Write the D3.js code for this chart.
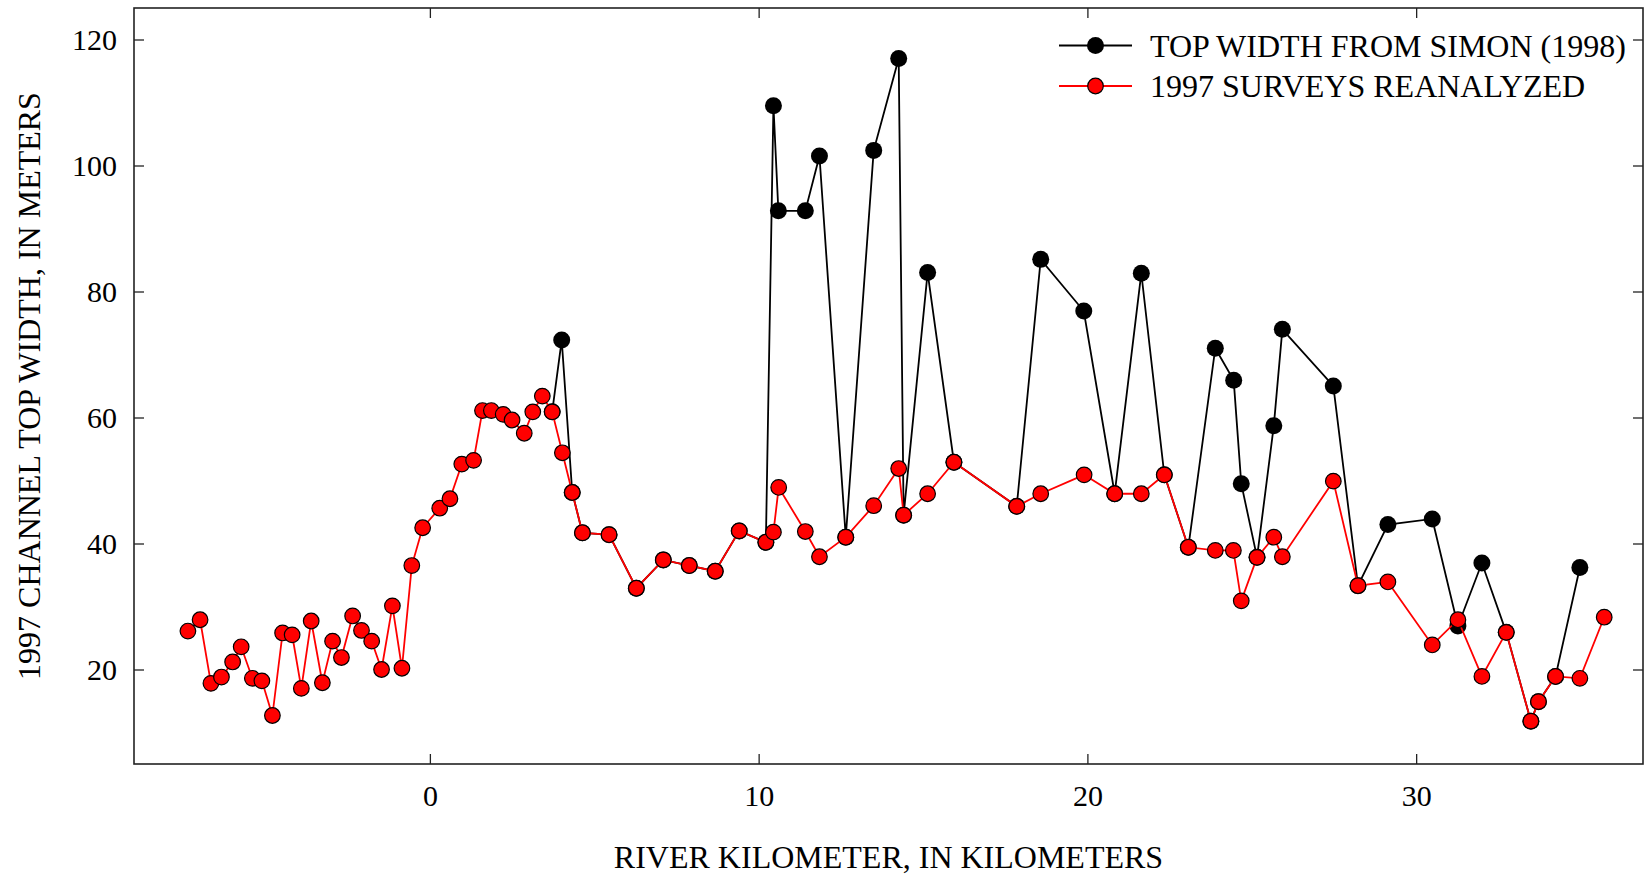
<!DOCTYPE html>
<html>
<head>
<meta charset="utf-8">
<script src="https://cdn.jsdelivr.net/npm/d3@7"></script>
<style>
  html, body { margin: 0; padding: 0; background: #fff; }
  svg { display: block; }
  text { font-family: "Liberation Serif", "Times New Roman", serif; fill: #000; }
</style>
</head>
<body>
<svg id="chart" width="1646" height="879"></svg>
<script>
// River kilometer and channel top width (m) from the 1997 surveys, reanalyzed
const surveyKm = [-7.36,-6.99,-6.66,-6.34,-6.0,-5.74,-5.40,-5.11,-4.79,-4.48,-4.19,-3.91,-3.61,-3.27,-2.96,-2.69,-2.35,-2.08,-1.77,-1.47,-1.14,-0.85,-0.55,-0.22,0.30,0.61,0.97,1.33,1.60,1.87,2.23,2.50,2.87,3.13,3.42,3.72,4.03,4.33,4.64,5.45,6.28,7.10,7.89,8.68,9.41,10.22,10.45,10.61,11.42,11.85,12.65,13.50,14.26,14.41,15.14,15.94,17.85,18.58,19.90,20.83,21.64,22.34,23.07,23.89,24.44,24.68,25.16,25.67,25.93,27.48,28.23,29.14,30.49,31.27,32.0,32.74,33.49,33.72,34.24,34.98,35.72];
const surveyWidth = [26.1,27.9,17.8,18.8,21.2,23.6,18.6,18.2,12.7,25.8,25.5,17.0,27.7,17.9,24.5,21.9,28.5,26.2,24.5,20.0,30.1,20.2,36.5,42.5,45.6,47.1,52.6,53.2,61.1,61.1,60.5,59.6,57.5,60.9,63.4,60.9,54.4,48.1,41.7,41.4,32.9,37.4,36.5,35.6,42.0,40.2,41.8,48.9,41.9,37.9,41.0,46.0,51.9,44.5,47.9,52.9,45.9,47.9,50.9,47.9,47.9,50.9,39.4,38.9,38.9,30.9,37.8,41.0,37.9,49.9,33.3,33.9,23.9,27.9,18.9,25.9,11.8,14.9,18.9,18.6,28.3];

// Top width reported by Simon (1998)
const simonKm = [3.72,4.01,4.33,4.64,5.45,6.28,7.10,7.89,8.68,9.41,10.22,10.45,10.60,11.42,11.85,12.65,13.50,14.26,14.41,15.14,15.94,17.85,18.58,19.89,20.83,21.64,22.34,23.07,23.89,24.45,24.68,25.16,25.67,25.93,27.48,28.23,29.14,30.49,31.27,32.0,32.74,33.49,33.72,34.24,34.98];
const simonWidth = [60.9,72.3,48.1,41.7,41.4,32.9,37.4,36.5,35.6,42.0,40.2,109.5,92.8,92.8,101.5,41.0,102.4,117.0,44.5,83.0,52.9,45.9,85.1,76.9,47.9,82.9,50.9,39.4,71.0,65.9,49.5,37.8,58.7,74.0,65.0,33.3,43.0,43.9,26.9,36.9,25.9,11.8,14.9,18.9,36.2];

const xTicks = [0, 10, 20, 30];
const yTicks = [20, 40, 60, 80, 100, 120];
const legendLabels = ["TOP WIDTH FROM SIMON (1998)", "1997 SURVEYS REANALYZED"];

const svg = d3.select("#chart");
const plot = { left: 134, right: 1643, top: 8, bottom: 764 };

const x = d3.scaleLinear().domain([-9, 36.9]).range([plot.left, plot.right]);
const y = d3.scaleLinear().domain([5, 125]).range([plot.bottom, plot.top]);

const tickLen = 10;
const axisColor = "#222";

// Inward ticks on all four sides
const axes = [
  { axis: d3.axisBottom(x).tickValues(xTicks).tickSizeInner(-tickLen).tickSizeOuter(0).tickPadding(21), at: `translate(0,${plot.bottom})` },
  { axis: d3.axisTop(x).tickValues(xTicks).tickSizeInner(-tickLen).tickSizeOuter(0).tickFormat(""), at: `translate(0,${plot.top})` },
  { axis: d3.axisLeft(y).tickValues(yTicks).tickSizeInner(-tickLen).tickSizeOuter(0).tickPadding(17), at: `translate(${plot.left},0)` },
  { axis: d3.axisRight(y).tickValues(yTicks).tickSizeInner(-tickLen).tickSizeOuter(0).tickFormat(""), at: `translate(${plot.right},0)` }
];
axes.forEach(a => {
  const g = svg.append("g").attr("transform", a.at).call(a.axis);
  g.select(".domain").remove();
  g.selectAll(".tick line").attr("stroke", axisColor).attr("stroke-width", 1.3);
  g.selectAll(".tick text")
    .style("font-family", '"Liberation Serif", "Times New Roman", serif')
    .style("font-size", "30px")
    .attr("fill", "#000");
});

// Plot frame
svg.append("rect")
  .attr("x", plot.left).attr("y", plot.top)
  .attr("width", plot.right - plot.left).attr("height", plot.bottom - plot.top)
  .attr("fill", "none").attr("stroke", axisColor).attr("stroke-width", 1.6);

// Axis titles
svg.append("text")
  .attr("x", (plot.left + plot.right) / 2).attr("y", 868)
  .attr("text-anchor", "middle").style("font-size", "32px")
  .text("RIVER KILOMETER, IN KILOMETERS");

svg.append("text")
  .attr("transform", `translate(40,${(plot.top + plot.bottom) / 2}) rotate(-90)`)
  .attr("text-anchor", "middle").style("font-size", "32px")
  .text("1997 CHANNEL TOP WIDTH, IN METERS");

const line = d3.line().x(d => x(d[0])).y(d => y(d[1]));
const simon = d3.zip(simonKm, simonWidth);
const survey = d3.zip(surveyKm, surveyWidth);

// Simon (1998) series: black
svg.append("path").datum(simon).attr("d", line)
  .attr("fill", "none").attr("stroke", "#000").attr("stroke-width", 1.8);
svg.append("g").selectAll("circle").data(simon).join("circle")
  .attr("cx", d => x(d[0])).attr("cy", d => y(d[1])).attr("r", 8.5)
  .attr("fill", "#000");

// 1997 surveys reanalyzed: red, drawn on top
svg.append("path").datum(survey).attr("d", line)
  .attr("fill", "none").attr("stroke", "#ff0000").attr("stroke-width", 1.8);
svg.append("g").selectAll("circle").data(survey).join("circle")
  .attr("cx", d => x(d[0])).attr("cy", d => y(d[1])).attr("r", 7.8)
  .attr("fill", "#ff0000").attr("stroke", "#000").attr("stroke-width", 1.2);

// Legend
const legend = svg.append("g");
const legendRows = [
  { label: legendLabels[0], color: "#000", fill: "#000", stroke: "none", y: 45.5 },
  { label: legendLabels[1], color: "#ff0000", fill: "#ff0000", stroke: "#000", y: 86 }
];
legendRows.forEach(r => {
  legend.append("line").attr("x1", 1059).attr("x2", 1132).attr("y1", r.y).attr("y2", r.y)
    .attr("stroke", r.color).attr("stroke-width", 1.8);
  legend.append("circle").attr("cx", 1095.5).attr("cy", r.y).attr("r", r.stroke === "none" ? 8.5 : 7.8)
    .attr("fill", r.fill).attr("stroke", r.stroke).attr("stroke-width", 1.2);
  legend.append("text").attr("x", 1150).attr("y", r.y + 11)
    .style("font-size", "32px").text(r.label);
});
</script>
</body>
</html>
